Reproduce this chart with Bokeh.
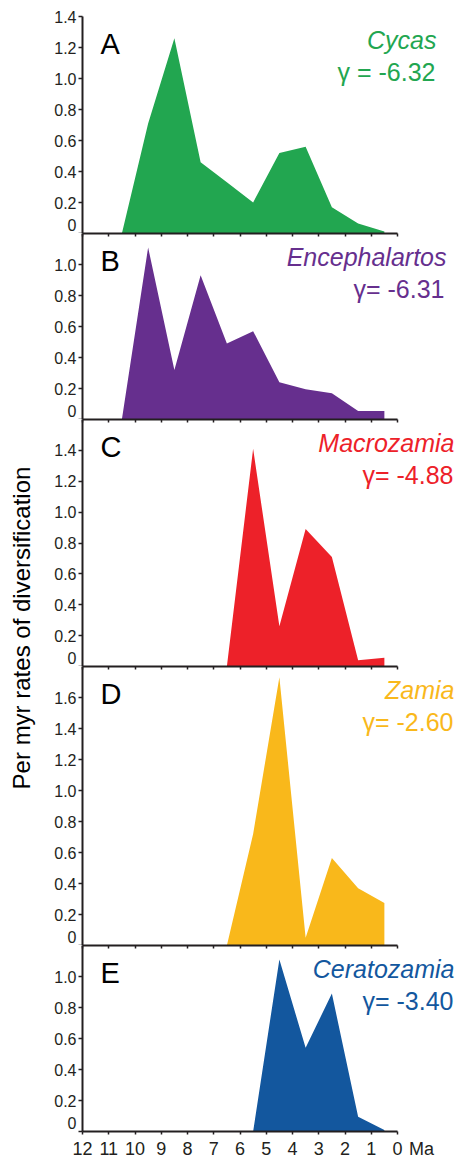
import math
from bokeh.plotting import figure
from bokeh.models import Range1d, FixedTicker, LinearAxis, Label
from bokeh.layouts import row, column
from bokeh.embed import file_html
from bokeh.resources import INLINE

# ---------------- data ----------------
ages_cycas = [10.5, 9.5, 8.5, 7.5, 6.5, 5.5, 4.5, 3.5, 2.5, 1.5, 0.5]
cycas_rates = [0, 0.71, 1.26, 0.46, 0.33, 0.20, 0.52, 0.56, 0.17, 0.065, 0.013]
ages_encephalartos = [10.5, 9.5, 8.5, 7.5, 6.5, 5.5, 4.5, 3.5, 2.5, 1.5, 0.5]
encephalartos_rates = [0, 1.11, 0.32, 0.93, 0.49, 0.57, 0.24, 0.195, 0.17, 0.055, 0.055]
ages_macrozamia = [6.5, 5.5, 4.5, 3.5, 2.5, 1.5, 0.5]
macrozamia_rates = [0, 1.41, 0.26, 0.89, 0.71, 0.04, 0.057]
ages_zamia = [6.5, 5.5, 4.5, 3.5, 2.5, 1.5, 0.5]
zamia_rates = [0, 0.72, 1.73, 0.05, 0.565, 0.37, 0.275]
ages_ceratozamia = [5.5, 4.5, 3.5, 2.5, 1.5, 0.5]
ceratozamia_rates = [0, 1.11, 0.54, 0.89, 0.095, 0.01]

x_ticks = [12, 11, 10, 9, 8, 7, 6, 5, 4, 3, 2, 1, 0]
x_unit = "Ma"
panel_letters = ["A", "B", "C", "D", "E"]
genus_names = ["Cycas", "Encephalartos", "Macrozamia", "Zamia", "Ceratozamia"]
gamma_labels = ["γ = -6.32", "γ= -6.31", "γ= -4.88", "γ= -2.60", "γ= -3.40"]
y_tops = [1.4, 1.2, 1.6, 1.8, 1.2]
y_tick_sets = [
    [0, 0.2, 0.4, 0.6, 0.8, 1.0, 1.2, 1.4],
    [0, 0.2, 0.4, 0.6, 0.8, 1.0],
    [0, 0.2, 0.4, 0.6, 0.8, 1.0, 1.2, 1.4],
    [0, 0.2, 0.4, 0.6, 0.8, 1.0, 1.2, 1.4, 1.6],
    [0, 0.2, 0.4, 0.6, 0.8, 1.0],
]
y_title = "Per myr rates of diversification"

series = [
    (ages_cycas, cycas_rates),
    (ages_encephalartos, encephalartos_rates),
    (ages_macrozamia, macrozamia_rates),
    (ages_zamia, zamia_rates),
    (ages_ceratozamia, ceratozamia_rates),
]

# ---------------- styles / layout ----------------
colors = ["#22A650", "#662F8E", "#ED2129", "#F9B81B", "#13579E"]
INK = "#231F20"
FONT = "Liberation Sans"
TITLE_W = 48
PANEL_W = 412
BORDER_L = 34
FRAME_W = 315
EXTRA_R = PANEL_W - BORDER_L - FRAME_W        # frame continues right of 0 Ma for the labels
TOP_BORDER = 16
BOTTOM_BORDER = 32
frame_heights = [217, 186, 247, 279, 186]
frame_right_px = TITLE_W + BORDER_L + FRAME_W   # page x of 0 Ma
genus_right_px = [436, 446, 454, 454, 454]
gamma_right_px = [435, 444, 453, 453, 453]
letter_left_px = 18
letter_drop, genus_drop, gamma_drop = 27, 23.5, 55.5
zero_label_lift = 9
unit_center_px = 421

px_per_ma = FRAME_W / 12.0
x_end = -EXTRA_R / px_per_ma


def hide_labels(ax):
    ax.major_label_text_font_size = "0px"
    ax.major_label_text_color = None
    ax.major_label_standoff = 0
    ax.minor_tick_line_color = None


panels = []
for i, (ages, rates) in enumerate(series):
    first = i == 0
    last = i == len(series) - 1
    fh = frame_heights[i]
    top = y_tops[i]
    scale = fh / top
    h = fh + (TOP_BORDER if first else 0) + (BOTTOM_BORDER if last else 0)
    p = figure(width=PANEL_W, height=h,
               x_range=Range1d(12, x_end), y_range=Range1d(0, top),
               output_backend="svg", toolbar_location=None,
               min_border_left=BORDER_L, min_border_right=0,
               min_border_top=TOP_BORDER if first else 0,
               min_border_bottom=BOTTOM_BORDER if last else 0)
    p.outline_line_color = None
    p.xgrid.visible = False
    p.ygrid.visible = False
    p.background_fill_color = "white"
    p.border_fill_color = "white"

    p.varea(x=ages, y1=0, y2=rates, fill_color=colors[i], fill_alpha=1.0)

    # y axis: line + ticks (closest to frame)
    ya = p.yaxis[0]
    ya.ticker = FixedTicker(ticks=y_tick_sets[i])
    ya.major_tick_in = 0
    ya.major_tick_out = 4
    ya.axis_line_width = 2
    ya.axis_line_color = INK
    ya.major_tick_line_color = INK
    ya.major_tick_line_width = 1.5
    hide_labels(ya)

    # y axis: labels only (zero label sits just above the baseline)
    label_ticks = [t if t != 0 else zero_label_lift / scale for t in y_tick_sets[i]]
    overrides = {lt: ("0" if t == 0 else f"{t:.1f}") for lt, t in zip(label_ticks, y_tick_sets[i])}
    yl = LinearAxis(ticker=FixedTicker(ticks=label_ticks), major_label_overrides=overrides)
    yl.axis_line_color = None
    yl.major_tick_line_color = None
    yl.minor_tick_line_color = None
    yl.major_tick_in = 0
    yl.major_tick_out = 0
    yl.major_label_standoff = 2
    yl.major_label_text_font = FONT
    yl.major_label_text_font_size = "16px"
    yl.major_label_text_color = INK
    p.add_layout(yl, "left")

    # bottom axis: line + ticks (only E has outward ticks)
    xa = p.xaxis[0]
    xa.ticker = FixedTicker(ticks=x_ticks)
    xa.bounds = (0, 12)
    xa.axis_line_width = 2
    xa.axis_line_color = INK
    xa.major_tick_in = 0
    xa.major_tick_out = 3 if last else 0
    xa.major_tick_line_color = INK
    xa.major_tick_line_width = 1.5
    hide_labels(xa)

    if last:
        unit_tick = -(unit_center_px - frame_right_px) / px_per_ma
        xl = LinearAxis(ticker=FixedTicker(ticks=x_ticks + [unit_tick]),
                        major_label_overrides={unit_tick: x_unit})
        xl.axis_line_color = None
        xl.major_tick_line_color = None
        xl.minor_tick_line_color = None
        xl.major_tick_in = 0
        xl.major_tick_out = 0
        xl.major_label_standoff = 4
        xl.major_label_text_font = FONT
        xl.major_label_text_font_size = "18px"
        xl.major_label_text_color = INK
        p.add_layout(xl, "below")

    # top axis (boundary with the panel above, ticks pointing down)
    if not first:
        ta = LinearAxis(ticker=FixedTicker(ticks=x_ticks), bounds=(0, 12))
        ta.major_tick_in = 3
        ta.major_tick_out = 0
        ta.major_tick_line_color = INK
        ta.major_tick_line_width = 1.5
        ta.axis_line_width = 2
        ta.axis_line_color = INK
        hide_labels(ta)
        p.add_layout(ta, "above")

    # annotations
    p.add_layout(Label(x=12 - letter_left_px / px_per_ma, y=top - letter_drop / scale,
                       text=panel_letters[i], text_font=FONT, text_font_size="29px",
                       text_color="black", text_align="left", text_baseline="alphabetic"))
    gx = -(genus_right_px[i] - frame_right_px) / px_per_ma
    p.add_layout(Label(x=gx, y=top - genus_drop / scale, text=genus_names[i],
                       text_font=FONT, text_font_size="25px", text_font_style="italic",
                       text_color=colors[i], text_align="right", text_baseline="alphabetic"))
    gmx = -(gamma_right_px[i] - frame_right_px) / px_per_ma
    p.add_layout(Label(x=gmx, y=top - gamma_drop / scale, text=gamma_labels[i],
                       text_font=FONT, text_font_size="25px",
                       text_color=colors[i], text_align="right", text_baseline="alphabetic"))
    panels.append(p)

total_h = sum(frame_heights) + TOP_BORDER + BOTTOM_BORDER
tfig = figure(width=TITLE_W, height=total_h, x_range=Range1d(0, TITLE_W),
              y_range=Range1d(0, total_h), output_backend="svg", toolbar_location=None,
              min_border=0)
tfig.axis.visible = False
tfig.grid.visible = False
tfig.outline_line_color = None
tfig.add_layout(Label(x=21, y=total_h - 627.5, text=y_title, angle=math.pi / 2,
                      text_font=FONT, text_font_size="24px", text_color="black",
                      text_align="center", text_baseline="middle"))

layout = row(tfig, column(*panels))
open("out.html", "w").write(file_html(layout, INLINE))
